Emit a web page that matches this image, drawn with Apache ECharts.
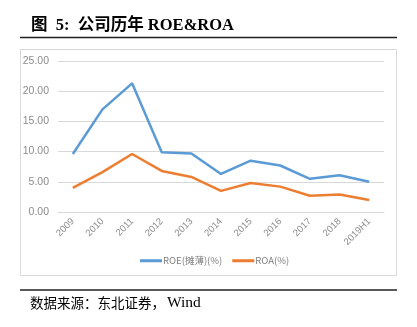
<!DOCTYPE html>
<html>
<head>
<meta charset="utf-8">
<script src="https://cdn.jsdelivr.net/npm/echarts@6/dist/echarts.min.js"></script>
<style>html,body{margin:0;padding:0;background:#fff;}#c{width:417px;height:327px;}</style>
</head>
<body>
<div id="c"></div>
<script>
const categories = ['2009','2010','2011','2012','2013','2014','2015','2016','2017','2018','2019H1'];
const roeValues = [9.6, 17.0, 21.3, 9.9, 9.7, 6.3, 8.5, 7.7, 5.5, 6.1, 5.0];
const roaValues = [4.0, 6.6, 9.6, 6.8, 5.8, 3.5, 4.8, 4.2, 2.7, 2.9, 2.0];
const seriesNames = ['ROE(摊薄)(%)', 'ROA(%)'];
const yTicks = [0, 5, 10, 15, 20, 25];

const chart = echarts.init(document.getElementById('c'), null, {renderer: 'canvas'});
chart.setOption({
  animation: false,
  backgroundColor: '#fff',
  title: {
    text: '图  5:  公司历年 ROE&ROA',
    left: 31, top: 17,
    padding: 0,
    textStyle: {fontFamily: '"Liberation Serif", "Noto Sans CJK SC", serif', fontWeight: 'bold', fontSize: 16.5, color: '#000'}
  },
  graphic: [
    {type: 'line', shape: {x1: 20, y1: 37.5, x2: 397, y2: 37.5}, style: {stroke: '#222', lineWidth: 1.5}, silent: true},
    {type: 'rect', shape: {x: 20.5, y: 49.5, width: 376, height: 226}, style: {fill: 'none', stroke: '#d9d9d9', lineWidth: 1}, silent: true, z: -1},
    {type: 'line', shape: {x1: 20, y1: 290, x2: 397, y2: 290}, style: {stroke: '#222', lineWidth: 1.5}, silent: true},
    {type: 'text', left: 30, top: 295, style: {
      text: '{a|数据来源：东北证券，}{b|Wind}',
      rich: {
        a: {fontSize: 13.5, fontFamily: '"Noto Sans CJK SC", serif', fill: '#000', color: '#000'},
        b: {fontSize: 15.5, fontFamily: '"Liberation Serif", serif', fill: '#000', color: '#000', padding: [0,0,0,2]}
      }
    }, silent: true}
  ],
  grid: {left: 58, right: 33, top: 61, bottom: 115, containLabel: false},
  legend: {
    data: seriesNames,
    left: 140, top: 256,
    padding: 0,
    icon: 'rect', itemWidth: 22, itemHeight: 3, itemGap: 10,
    textStyle: {fontSize: 9.5, color: '#7f7f7f', fontFamily: '"Noto Sans CJK SC", sans-serif', padding: [0,0,0,-4]}
  },
  xAxis: {
    type: 'category',
    data: categories,
    boundaryGap: true,
    axisLine: {lineStyle: {color: '#d9d9d9'}},
    axisTick: {show: false},
    axisLabel: {rotate: 45, color: '#8c8c8c', fontSize: 9.5, margin: 8, interval: 0, fontFamily: '"Liberation Sans", sans-serif'}
  },
  yAxis: {
    type: 'value',
    min: yTicks[0], max: yTicks[yTicks.length - 1], interval: 5,
    axisLine: {show: false},
    axisTick: {show: false},
    splitLine: {lineStyle: {color: '#d9d9d9', width: 1}},
    axisLabel: {color: '#8c8c8c', fontSize: 10.5, margin: 9, fontFamily: '"Liberation Sans", sans-serif',
      formatter: v => v.toFixed(2)}
  },
  series: [
    {name: seriesNames[0], type: 'line', data: roeValues, symbol: 'none', lineStyle: {color: '#5b9bd5', width: 2.5}, itemStyle: {color: '#5b9bd5'}},
    {name: seriesNames[1], type: 'line', data: roaValues, symbol: 'none', lineStyle: {color: '#ed7d31', width: 2.5}, itemStyle: {color: '#ed7d31'}}
  ]
});
</script>
</body>
</html>
